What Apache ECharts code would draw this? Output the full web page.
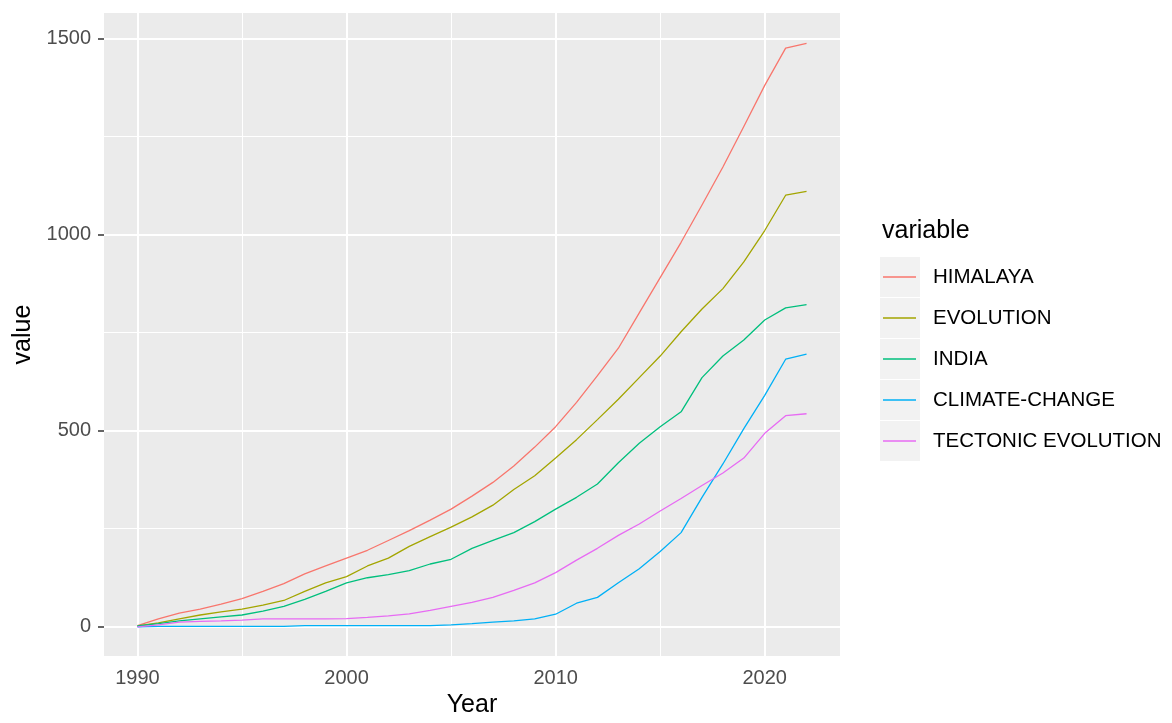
<!DOCTYPE html>
<html>
<head>
<meta charset="utf-8">
<script src="https://cdn.jsdelivr.net/npm/echarts@6/dist/echarts.min.js"></script>
<style>
  html, body { margin: 0; padding: 0; background: #fff; }
  #chart { width: 1172px; height: 723px; }
</style>
</head>
<body>
<div id="chart"></div>
<script>
// years 1990..2022
var years = [1990, 1991, 1992, 1993, 1994, 1995, 1996, 1997, 1998, 1999,
  2000, 2001, 2002, 2003, 2004, 2005, 2006, 2007, 2008, 2009,
  2010, 2011, 2012, 2013, 2014, 2015, 2016, 2017, 2018, 2019,
  2020, 2021, 2022];

var himalaya = [3, 20, 35, 45, 58, 72, 90, 110, 135, 155,
  175, 195, 220, 245, 272, 300, 333, 368, 410, 458,
  510, 572, 640, 710, 800, 890, 980, 1075, 1172, 1275,
  1380, 1475, 1487];
var evolution = [2, 10, 20, 30, 38, 45, 55, 67, 90, 112,
  128, 155, 175, 205, 230, 254, 280, 310, 350, 385,
  430, 477, 528, 580, 635, 690, 752, 810, 862, 930,
  1010, 1100, 1110];
var india = [2, 8, 15, 20, 25, 30, 40, 52, 70, 90,
  112, 125, 133, 143, 160, 172, 200, 220, 240, 268,
  300, 330, 364, 418, 468, 510, 548, 635, 690, 731,
  782, 813, 821];
var climateChange = [0, 1, 1, 1, 1, 1, 1, 1, 3, 3,
  3, 3, 3, 3, 3, 5, 8, 12, 15, 20,
  32, 60, 75, 112, 148, 192, 240, 330, 415, 505,
  590, 682, 695];
var tectonicEvolution = [0, 5, 12, 14, 15, 17, 20, 20, 20, 20,
  21, 24, 28, 33, 42, 52, 62, 75, 93, 112,
  138, 170, 200, 233, 262, 295, 327, 360, 392, 430,
  493, 538, 543];

var seriesNames = ['HIMALAYA', 'EVOLUTION', 'INDIA', 'CLIMATE-CHANGE', 'TECTONIC EVOLUTION'];
var seriesValues = [himalaya, evolution, india, climateChange, tectonicEvolution];
var colors = ['#F8766D', '#A3A500', '#00BF7D', '#00B0F6', '#E76BF3'];

var xTicks = [1990, 2000, 2010, 2020];
var xMinor = [1995, 2005, 2015];
var yTicks = [0, 500, 1000, 1500];
var yMinor = [250, 750, 1250];

var FONT = '"Liberation Sans", Arial, sans-serif';

var chart = echarts.init(document.getElementById('chart'));

var grid = []; // gridlines as markLines
xMinor.forEach(function (v) { grid.push({ xAxis: v, lineStyle: { width: 1 } }); });
yMinor.forEach(function (v) { grid.push({ yAxis: v, lineStyle: { width: 1 } }); });
xTicks.forEach(function (v) { grid.push({ xAxis: v, lineStyle: { width: 2 } }); });
yTicks.forEach(function (v) { grid.push({ yAxis: v, lineStyle: { width: 2 } }); });

var series = [{
  name: 'grid',
  type: 'line',
  data: [],
  z: 1,
  silent: true,
  markLine: {
    z: 1,
    silent: true,
    symbol: ['none', 'none'],
    label: { show: false },
    lineStyle: { color: '#ffffff', type: 'solid' },
    emphasis: { disabled: true },
    data: grid,
    animation: false
  }
}];

seriesNames.forEach(function (name, i) {
  series.push({
    name: name,
    type: 'line',
    z: 3,
    showSymbol: false,
    symbol: 'none',
    color: colors[i],
    lineStyle: { width: 1.3, color: colors[i] },
    data: years.map(function (y, j) { return [y, seriesValues[i][j]]; })
  });
});

// legend key boxes
var legendTop = 257, keyH = 40, keyGap = 1;
var keys = seriesNames.map(function (n, i) {
  return {
    type: 'rect',
    left: 880,
    top: legendTop + i * (keyH + keyGap),
    shape: { width: 40, height: keyH },
    style: { fill: '#F2F2F2' },
    z: 0
  };
});

function plain(v) { return String(v); }

chart.setOption({
  animation: false,
  backgroundColor: '#ffffff',
  textStyle: { fontFamily: FONT },
  title: {
    text: 'variable',
    left: 877,
    top: 214,
    textStyle: { fontFamily: FONT, fontSize: 25, fontWeight: 'normal', color: '#000' }
  },
  graphic: keys,
  legend: {
    data: seriesNames,
    orient: 'vertical',
    left: 883,
    top: legendTop,
    padding: 0,
    itemGap: keyGap,
    itemWidth: 33,
    itemHeight: 1.4,
    icon: 'rect',
    selectedMode: false,
    textStyle: {
      fontFamily: FONT,
      fontSize: 20.5,
      color: '#000',
      lineHeight: keyH,
      height: keyH,
      padding: [0, 0, 0, 12]
    }
  },
  grid: {
    left: 104,
    right: 332,
    top: 13,
    bottom: 63,
    show: true,
    backgroundColor: '#EBEBEB',
    borderWidth: 0
  },
  xAxis: {
    type: 'value',
    min: 1988.4,
    max: 2023.6,
    name: 'Year',
    nameLocation: 'middle',
    nameGap: 37,
    nameTextStyle: { fontFamily: FONT, fontSize: 25, color: '#000' },
    axisLine: { show: false },
    axisTick: { show: true, length: 6, lineStyle: { color: '#333333', width: 1.5 }, customValues: xTicks },
    axisLabel: { fontFamily: FONT, fontSize: 20, color: '#4D4D4D', margin: 12, customValues: xTicks, formatter: plain },
    splitLine: { show: false }
  },
  yAxis: {
    type: 'value',
    min: -74.5,
    max: 1564.5,
    name: 'value',
    nameLocation: 'middle',
    nameGap: 66,
    nameTextStyle: { fontFamily: FONT, fontSize: 25, color: '#000' },
    axisLine: { show: false },
    axisTick: { show: true, length: 6, lineStyle: { color: '#333333', width: 1.5 }, customValues: yTicks },
    axisLabel: { fontFamily: FONT, fontSize: 20, color: '#4D4D4D', margin: 13, customValues: yTicks, formatter: plain },
    splitLine: { show: false }
  },
  series: series
});
</script>
</body>
</html>
